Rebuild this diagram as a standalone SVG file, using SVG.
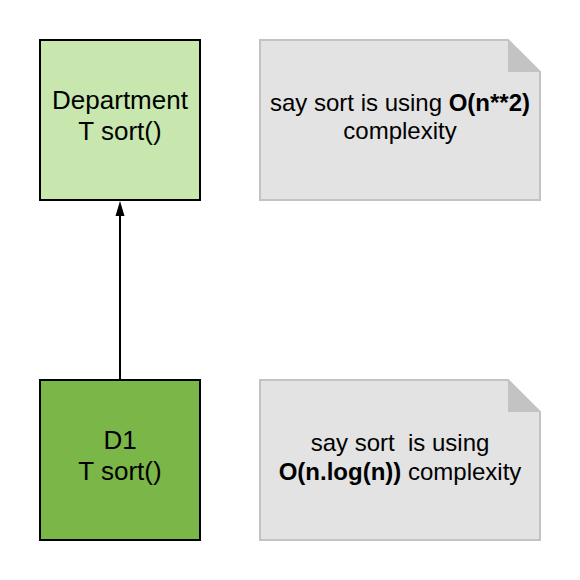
<svg xmlns="http://www.w3.org/2000/svg" width="580" height="580" viewBox="0 0 580 580">
<style>
.box{stroke:#000;stroke-width:2}
.note{fill:#e3e3e3;stroke:#c3c3c3;stroke-width:2}
.fold{fill:#c3c3c3}
text{font-family:"Liberation Sans",Arial,sans-serif;font-size:24px;fill:#000;text-anchor:middle}
.n{font-size:26px}
.b{font-weight:bold}
</style>
<rect width="580" height="580" fill="#fff"/>
<g id="connectors">
<path d="M120,379 L120,216" stroke="#000" stroke-width="2" fill="none"/>
<path d="M120,201 L115.5,216 L124.5,216 Z" fill="#000"/>
</g>
<g id="department">
<rect class="box" x="40" y="40" width="160" height="160" fill="#c7e7af"/>
<text class="n" x="120" y="109">Department</text>
<text class="n" x="120" y="140">T sort()</text>
</g>
<g id="d1">
<rect class="box" x="40" y="380" width="160" height="160" fill="#7ab648"/>
<text class="n" x="120" y="449">D1</text>
<text class="n" x="120" y="480">T sort()</text>
</g>
<g id="note1">
<path class="note" d="M260,40 L508,40 L540,72 L540,200 L260,200 Z"/>
<path class="fold" d="M508,40 L540,72 L508,72 Z"/>
<text x="400" y="111">say sort is using <tspan class="b">O(n**2)</tspan></text>
<text x="400" y="139">complexity</text>
</g>
<g id="note2">
<path class="note" d="M260,380 L508,380 L540,412 L540,540 L260,540 Z"/>
<path class="fold" d="M508,380 L540,412 L508,412 Z"/>
<text x="400" y="451" xml:space="preserve" style="white-space:pre">say sort  is using</text>
<text x="400" y="480"><tspan class="b">O(n.log(n))</tspan> complexity</text>
</g>
</svg>
